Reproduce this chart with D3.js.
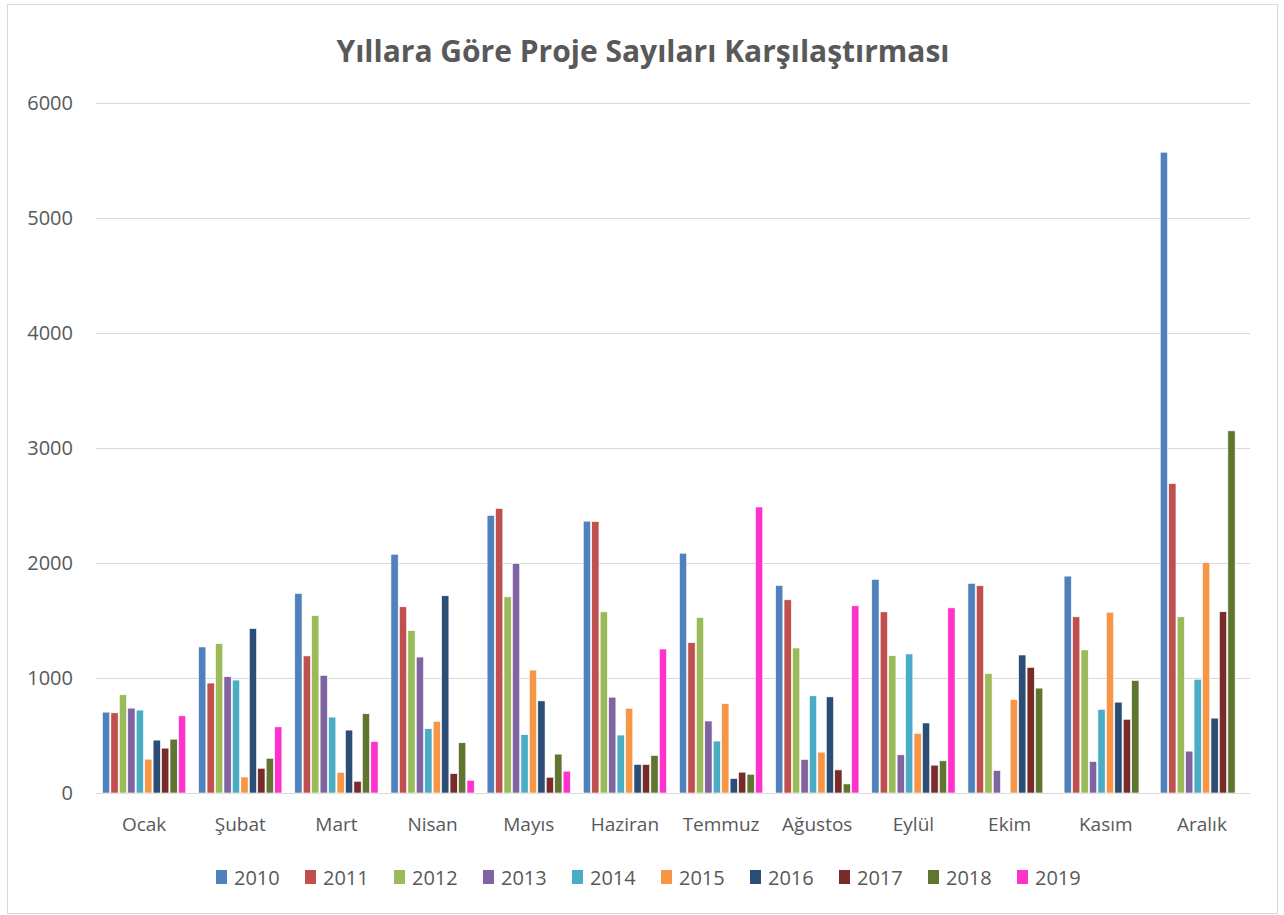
<!DOCTYPE html>
<html>
<head>
    <meta charset="utf-8">
    <style>
        body {
            margin: 0;
            background: #fff;
            font-family: 'Open Sans', sans-serif;
        }

        svg {
            display: block;
        }

        .y .tick line {
            stroke: #d9d9d9;
        }

        .y .domain,
        .x .domain,
        .x .tick line {
            display: none;
        }

        .y .tick text,
        .x .tick text {
            fill: #595959;
            font-family: 'Open Sans', sans-serif;
        }
    </style>
</head>
<body>
    <svg width="1284" height="915"></svg>

    <script src="https://d3js.org/d3.v7.min.js"></script>
    <script>
        // months along the x axis
        let months = ["Ocak", "Şubat", "Mart", "Nisan", "Mayıs", "Haziran", "Temmuz", "Ağustos", "Eylül", "Ekim", "Kasım", "Aralık"];
        let years = ["2010", "2011", "2012", "2013", "2014", "2015", "2016", "2017", "2018", "2019"];
        let yTicks = [0, 1000, 2000, 3000, 4000, 5000, 6000];

        // one array per year (null = no bar)
        let v2010 = [703, 1270, 1735, 2076, 2414, 2364, 2085, 1805, 1858, 1823, 1886, 5572];
        let v2011 = [697, 956, 1192, 1619, 2475, 2361, 1307, 1680, 1575, 1802, 1532, 2691];
        let v2012 = [854, 1299, 1543, 1412, 1706, 1575, 1526, 1261, 1194, 1039, 1244, 1532];
        let v2013 = [738, 1011, 1023, 1182, 1997, 833, 626, 292, 332, 196, 274, 364];
        let v2014 = [721, 982, 660, 559, 507, 504, 452, 845, 1209, null, 728, 989];
        let v2015 = [294, 139, 180, 623, 1069, 737, 777, 355, 519, 812, 1572, 2004];
        let v2016 = [460, 1430, 547, 1715, 801, 248, 126, 836, 609, 1200, 790, 651];
        let v2017 = [390, 215, 102, 169, 137, 248, 181, 201, 242, 1092, 641, 1576];
        let v2018 = [468, 302, 689, 437, 338, 326, 163, 79, 280, 912, 978, 3149];
        let v2019 = [671, 575, 447, 111, 190, 1252, 2487, 1628, 1610, null, null, null];

        let series = [v2010, v2011, v2012, v2013, v2014, v2015, v2016, v2017, v2018, v2019];
        let colors = ["#4F81BD", "#C0504D", "#9BBB59", "#8064A2", "#4BACC6", "#F79646", "#2C4D75", "#772C2A", "#5F7530", "#FF33CC"];

        let width = 1284;
        let height = 915;
        let margin = { top: 103, right: 34, bottom: 122, left: 96 };

        let svg = d3.select("svg");

        // light frame around the whole chart
        svg.append("rect")
            .attr("x", 7.5)
            .attr("y", 4.5)
            .attr("width", width - 14)
            .attr("height", height - 6)
            .attr("fill", "#fff")
            .attr("stroke", "#d9d9d9")

        let x0 = d3.scaleBand()
            .domain(months)
            .range([margin.left, width - margin.right])
            .paddingInner(0.125)
            .paddingOuter(0.0625)

        let x1 = d3.scaleBand()
            .domain(years)
            .range([0, x0.bandwidth()])
            .paddingInner(0.14)
            .paddingOuter(0.05)

        let y = d3.scaleLinear()
            .domain([0, 6000])
            .range([height - margin.bottom, margin.top])

        let yAxisSettings = d3.axisLeft(y)
            .tickValues(yTicks)
            .tickSize(-(width - margin.left - margin.right))
            .tickPadding(23)
            .tickFormat(d3.format("d"))

        svg.append("g")
            .attr("class", "y axis")
            .attr("transform", `translate(${margin.left},0)`)
            .call(yAxisSettings)
            .selectAll("text")
            .style("font-size", "20px")

        let xAxisSettings = d3.axisBottom(x0)
            .tickSize(0)
            .tickPadding(25)

        svg.append("g")
            .attr("class", "x axis")
            .attr("transform", `translate(0,${height - margin.bottom})`)
            .call(xAxisSettings)
            .selectAll("text")
            .style("font-size", "19px")

        // flatten into one record per bar
        let bars = [];
        months.forEach((m, i) => {
            years.forEach((yr, j) => {
                if (series[j][i] != null) {
                    bars.push({ month: m, year: yr, value: series[j][i], color: colors[j] });
                }
            })
        })

        svg.append("g")
            .selectAll("rect")
            .data(bars)
            .join("rect")
            .attr("x", d => x0(d.month) + x1(d.year))
            .attr("width", x1.bandwidth())
            .attr("y", d => y(d.value))
            .attr("height", d => y(0) - y(d.value))
            .attr("fill", d => d.color)
            .attr("stroke", "#fff")
            .attr("stroke-width", 0.6)

        // title
        svg.append("text")
            .attr("x", 643)
            .attr("y", 62)
            .attr("text-anchor", "middle")
            .style("font-size", "30px")
            .style("font-weight", 700)
            .attr("fill", "#595959")
            .text("Yıllara Göre Proje Sayıları Karşılaştırması")

        // legend
        let legend = svg.append("g")
            .attr("transform", "translate(216,870)")

        let item = legend.selectAll("g")
            .data(years)
            .join("g")
            .attr("transform", (d, i) => `translate(${i * 89},0)`)

        item.append("rect")
            .attr("width", 11)
            .attr("height", 14)
            .attr("fill", (d, i) => colors[i])

        item.append("text")
            .attr("x", 18)
            .attr("y", 15)
            .style("font-size", "20px")
            .attr("fill", "#595959")
            .text(d => d)
    </script>
</body>
</html>
